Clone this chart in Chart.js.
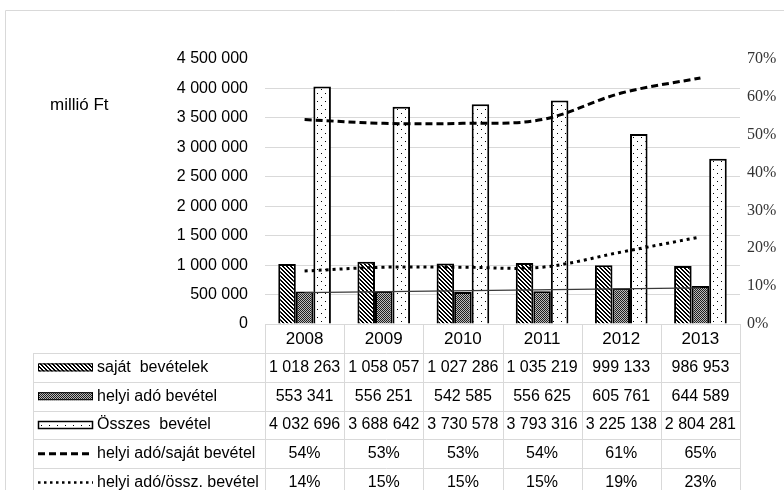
<!DOCTYPE html>
<html lang="hu">
<head>
<meta charset="utf-8">
<title>Saját bevételek és helyi adó bevétel</title>
<script src="https://cdn.jsdelivr.net/npm/chart.js@4.4.1/dist/chart.umd.min.js"></script>
<style>
  html, body { margin: 0; padding: 0; background: #fff; }
  #wrap { position: relative; width: 784px; height: 490px; overflow: hidden; }
</style>
</head>
<body>
<div id="wrap"><canvas id="bevetelChart" width="784" height="490"></canvas></div>
<script>
/* ---------------- Data ---------------- */
var evek = ['2008', '2009', '2010', '2011', '2012', '2013'];
var sajatBevetelek = [1018263, 1058057, 1027286, 1035219, 999133, 986953];
var helyiAdoBevetel = [553341, 556251, 542585, 556625, 605761, 644589];
var osszesBevetel = [4032696, 3688642, 3730578, 3793316, 3225138, 2804281];
var adoPerSajat = [54, 53, 53, 54, 61, 65];      // %
var adoPerOsszes = [14, 15, 15, 15, 19, 23];     // %
var trendHelyiAdo = [532000, null, null, null, null, 615000]; // thin trend line, ends only
var balTengely = [0, 500000, 1000000, 1500000, 2000000, 2500000, 3000000, 3500000, 4000000, 4500000];
var jobbTengely = [0, 10, 20, 30, 40, 50, 60, 70];
var sorCimkek = ['saját  bevételek', 'helyi adó bevétel', 'Összes  bevétel',
                 'helyi adó/saját bevétel', 'helyi adó/össz. bevétel'];

(function () {
  'use strict';

  var canvas = document.getElementById('bevetelChart');
  var ctx = canvas.getContext('2d');
  var sans = "'Liberation Sans', Arial, sans-serif";
  var serif = "'Liberation Serif', 'Times New Roman', serif";
  var gridColor = '#d9d9d9';

  function ezres(n) {
    return String(n).replace(/\B(?=(\d{3})+(?!\d))/g, ' ');
  }

  /* ---- fill patterns like the Excel ones ---- */
  function minta(size, paint) {
    var t = document.createElement('canvas');
    t.width = t.height = size;
    var g = t.getContext('2d');
    g.fillStyle = '#fff';
    g.fillRect(0, 0, size, size);
    paint(g);
    return ctx.createPattern(t, 'repeat');
  }

  var ferdeMinta = minta(4, function (g) {
    g.fillStyle = '#000';
    for (var i = 0; i < 4; i++) {
      g.fillRect(i, i, 1, 1);
      g.fillRect((i + 1) % 4, i, 1, 1);
    }
  });
  var kockaMinta = minta(2, function (g) {
    g.fillStyle = '#bcbcbc';
    g.fillRect(0, 0, 2, 2);
    g.fillStyle = '#1e1e1e';
    g.fillRect(0, 0, 1, 1);
    g.fillRect(1, 1, 1, 1);
  });
  var pontMinta = minta(8, function (g) {
    g.fillStyle = '#000';
    g.fillRect(1, 1, 1, 1);
    g.fillRect(5, 5, 1, 1);
  });

  var bevetelMintak = [ferdeMinta, kockaMinta, pontMinta];

  /* ---- frame, unit label and the data table under the plot ---- */
  var tablaPlugin = {
    id: 'adatTabla',
    afterDraw: function (chart) {
      var c = chart.ctx;
      var area = chart.chartArea;
      var x = chart.scales.x;
      var colW = x.getPixelForValue(1) - x.getPixelForValue(0);
      var tLeft = 33;
      var cLeft = x.getPixelForValue(0) - colW / 2;
      var cRight = x.getPixelForValue(evek.length - 1) + colW / 2;
      var headTop = area.bottom;
      var rowTop = headTop + 29;
      var rowH = 28.8;
      var bottom = chart.height + 10;

      c.save();

      // outer chart frame
      c.strokeStyle = gridColor;
      c.lineWidth = 1;
      c.beginPath();
      c.moveTo(5.5, chart.height + 5);
      c.lineTo(5.5, 10.5);
      c.lineTo(chart.width + 5, 10.5);
      c.stroke();

      // unit label
      c.fillStyle = '#000';
      c.font = '17px ' + sans;
      c.textAlign = 'left';
      c.textBaseline = 'middle';
      c.fillText('millió Ft', 50, 105);

      // table grid
      c.strokeStyle = gridColor;
      c.beginPath();
      c.moveTo(cLeft, Math.round(headTop) + 0.5);
      c.lineTo(cRight, Math.round(headTop) + 0.5);
      for (var r = 0; r < sorCimkek.length; r++) {
        var yy = Math.round(rowTop + r * rowH) + 0.5;
        c.moveTo(tLeft, yy);
        c.lineTo(cRight, yy);
      }
      c.moveTo(tLeft + 0.5, rowTop);
      c.lineTo(tLeft + 0.5, bottom);
      for (var k = 0; k <= evek.length; k++) {
        var xx = Math.round(cLeft + k * colW) + 0.5;
        c.moveTo(xx, headTop);
        c.lineTo(xx, bottom);
      }
      c.stroke();

      // row values
      var sorok = [
        sajatBevetelek.map(ezres),
        helyiAdoBevetel.map(ezres),
        osszesBevetel.map(ezres),
        adoPerSajat.map(function (v) { return v + '%'; }),
        adoPerOsszes.map(function (v) { return v + '%'; })
      ];
      c.font = '16px ' + sans;
      c.fillStyle = '#000';
      c.textBaseline = 'middle';
      for (var s = 0; s < sorok.length; s++) {
        var cy = rowTop + s * rowH + rowH / 2;
        c.textAlign = 'center';
        for (var j = 0; j < evek.length; j++) {
          c.fillText(sorok[s][j], x.getPixelForValue(j), cy);
        }
        c.textAlign = 'left';
        c.fillText(sorCimkek[s], 97, cy);

        // legend keys
        if (s < 3) {
          c.fillStyle = bevetelMintak[s];
          c.fillRect(38, cy - 4, 55, 8);
          c.strokeStyle = '#000';
          c.lineWidth = s === 2 ? 1.5 : 1;
          c.strokeRect(38.5, cy - 3.5, 54, 7);
          c.fillStyle = '#000';
        } else {
          c.strokeStyle = '#000';
          c.lineWidth = s === 3 ? 3 : 2.5;
          c.setLineDash(s === 3 ? [7, 4] : [2.5, 3.5]);
          c.beginPath();
          c.moveTo(38, cy);
          c.lineTo(93, cy);
          c.stroke();
          c.setLineDash([]);
        }
      }
      c.restore();
    }
  };

  var barDefaults = { borderColor: '#000', borderWidth: 2, yAxisID: 'y', order: 2 };

  new Chart(ctx, {
    data: {
      labels: evek,
      datasets: [
        Object.assign({ type: 'bar', label: sorCimkek[0], data: sajatBevetelek, backgroundColor: ferdeMinta }, barDefaults),
        Object.assign({ type: 'bar', label: sorCimkek[1], data: helyiAdoBevetel, backgroundColor: kockaMinta }, barDefaults),
        Object.assign({ type: 'bar', label: sorCimkek[2], data: osszesBevetel, backgroundColor: pontMinta }, barDefaults),
        {
          type: 'line', label: sorCimkek[3], data: adoPerSajat, yAxisID: 'y1', order: 0,
          borderColor: '#000', borderWidth: 3, borderDash: [7, 4], tension: 0.35,
          pointRadius: 0, fill: false
        },
        {
          type: 'line', label: sorCimkek[4], data: adoPerOsszes, yAxisID: 'y1', order: 0,
          borderColor: '#000', borderWidth: 3, borderDash: [3, 4], tension: 0.35,
          pointRadius: 0, fill: false
        },
        {
          type: 'line', label: 'trend', data: trendHelyiAdo, yAxisID: 'y', order: 1,
          borderColor: '#3a3a3a', borderWidth: 1.3, spanGaps: true, tension: 0,
          pointRadius: 0, fill: false
        }
      ]
    },
    options: {
      responsive: false,
      animation: false,
      layout: { padding: { top: 59, left: 0, right: 0, bottom: 0 } },
      datasets: { bar: { categoryPercentage: 0.665, barPercentage: 1 } },
      plugins: { legend: { display: false }, tooltip: { enabled: false }, title: { display: false } },
      scales: {
        x: {
          grid: { display: false },
          border: { display: false },
          ticks: { color: '#000', font: { family: sans, size: 17 }, padding: -3 },
          afterFit: function (scale) { scale.height = 166; }
        },
        y: {
          position: 'left',
          min: 0,
          max: 4500000,
          border: { display: false },
          grid: {
            drawTicks: false,
            color: function (c) { return c.tick && c.tick.value === 4500000 ? 'rgba(0,0,0,0)' : gridColor; }
          },
          afterBuildTicks: function (scale) {
            scale.ticks = balTengely.map(function (v) { return { value: v }; });
          },
          ticks: {
            color: '#000',
            font: { family: sans, size: 16 },
            padding: 17,
            callback: function (v) { return ezres(v); }
          },
          afterFit: function (scale) { scale.width = 265; }
        },
        y1: {
          position: 'right',
          min: 0,
          max: 70,
          border: { display: false },
          grid: { display: false, drawTicks: false },
          afterBuildTicks: function (scale) {
            scale.ticks = jobbTengely.map(function (v) { return { value: v }; });
          },
          ticks: {
            color: '#333',
            font: { family: serif, size: 16 },
            padding: 7,
            callback: function (v) { return v + '%'; }
          },
          afterFit: function (scale) { scale.width = 44; }
        }
      }
    },
    plugins: [tablaPlugin]
  });
})();
</script>
</body>
</html>
